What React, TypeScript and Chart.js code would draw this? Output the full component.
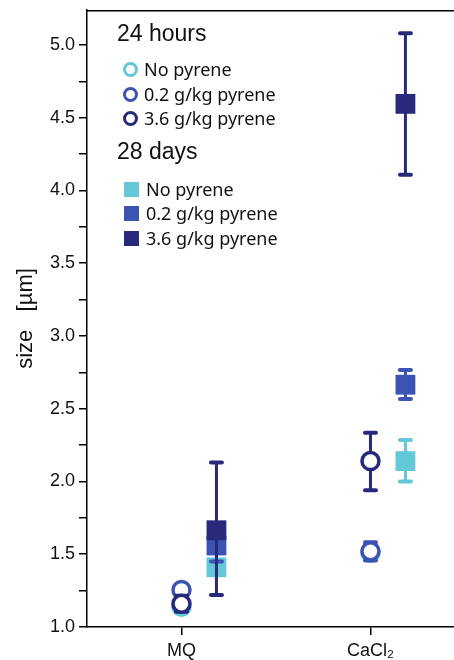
import React, { useEffect, useRef } from "react";
import { Chart, registerables } from "chart.js";

Chart.register(...registerables);

// ---------- data ----------
const categories = ["MQ", "CaCl\u2082"];
const categoryX = [1, 2];
const squareOffset = 0.185;
const yTickValues = [1, 1.25, 1.5, 1.75, 2, 2.25, 2.5, 2.75, 3, 3.25, 3.5, 3.75, 4, 4.25, 4.5, 4.75, 5];

// 24 hours (open circles)
const h24None = [1.14, 1.51];
const h24NoneLow = [1.115, 1.48];
const h24NoneHigh = [1.165, 1.54];
const h24Low02 = [1.255, 1.52];
const h24Low02Low = [1.23, 1.457];
const h24Low02High = [1.28, 1.583];
const h24High36 = [1.16, 2.14];
const h24High36Low = [1.105, 1.94];
const h24High36High = [1.215, 2.335];

// 28 days (filled squares)
const d28None = [1.41, 2.14];
const d28NoneLow = [1.38, 2.0];
const d28NoneHigh = [1.44, 2.285];
const d28Low02 = [1.56, 2.665];
const d28Low02Low = [1.45, 2.567];
const d28Low02High = [1.67, 2.766];
const d28High36 = [1.665, 4.595];
const d28High36Low = [1.22, 4.107];
const d28High36High = [2.13, 5.08];

const CYAN = "#63c8d8";
const MID = "#3b53b3";
const DARK = "#272a7b";

type Series = {
  label: string;
  group: string;
  values: number[];
  low: number[];
  high: number[];
  color: string;
  shape: "circle" | "rect";
  order: number;
};

const series: Series[] = [
  { label: "No pyrene", group: "24 hours", values: h24None, low: h24NoneLow, high: h24NoneHigh, color: CYAN, shape: "circle", order: 5 },
  { label: "0.2 g/kg pyrene", group: "24 hours", values: h24Low02, low: h24Low02Low, high: h24Low02High, color: MID, shape: "circle", order: 4 },
  { label: "3.6 g/kg pyrene", group: "24 hours", values: h24High36, low: h24High36Low, high: h24High36High, color: DARK, shape: "circle", order: 3 },
  { label: "No pyrene", group: "28 days", values: d28None, low: d28NoneLow, high: d28NoneHigh, color: CYAN, shape: "rect", order: 2 },
  { label: "0.2 g/kg pyrene", group: "28 days", values: d28Low02, low: d28Low02Low, high: d28Low02High, color: MID, shape: "rect", order: 1 },
  { label: "3.6 g/kg pyrene", group: "28 days", values: d28High36, low: d28High36Low, high: d28High36High, color: DARK, shape: "rect", order: 0 },
];

const errorBarPlugin = {
  id: "errorBars",
  beforeDatasetDraw(chart: any, args: any) {
    const ds: any = chart.data.datasets[args.index];
    const meta = args.meta;
    const yScale = chart.scales.y;
    const ctx = chart.ctx;
    ctx.save();
    ctx.strokeStyle = ds.errColor;
    ctx.lineCap = "round";
    meta.data.forEach((pt: any, i: number) => {
      const raw = ds.data[i];
      const yl = yScale.getPixelForValue(raw.low);
      const yh = yScale.getPixelForValue(raw.high);
      const x = pt.x;
      ctx.lineWidth = 3;
      ctx.beginPath();
      ctx.moveTo(x, yl);
      ctx.lineTo(x, yh);
      ctx.stroke();
      ctx.lineWidth = 4;
      ctx.beginPath();
      ctx.moveTo(x - 5.5, yl);
      ctx.lineTo(x + 5.5, yl);
      ctx.moveTo(x - 5.5, yh);
      ctx.lineTo(x + 5.5, yh);
      ctx.stroke();
    });
    ctx.restore();
  },
};

const framePlugin = {
  id: "frameAndLegend",
  afterDraw(chart: any) {
    const ctx = chart.ctx;
    const a = chart.chartArea;
    ctx.save();
    ctx.strokeStyle = "#000";
    ctx.lineWidth = 1.5;
    ctx.beginPath();
    ctx.moveTo(a.left, a.top + 0.75);
    ctx.lineTo(a.right, a.top + 0.75);
    ctx.stroke();

    // legend
    const groups = ["24 hours", "28 days"];
    const headBase = [40.5, 159];
    const itemBase = [
      [76, 101, 125],
      [196, 220, 245],
    ];
    groups.forEach((g, gi) => {
      ctx.fillStyle = "#111";
      ctx.font = "23px 'Liberation Sans', Arial, sans-serif";
      ctx.textBaseline = "alphabetic";
      ctx.textAlign = "left";
      ctx.fillText(g, 117, headBase[gi]);
      const items = series.filter((s) => s.group === g);
      items.forEach((s, ii) => {
        const base = itemBase[gi][ii];
        const cy = base - 6.5;
        if (s.shape === "circle") {
          ctx.beginPath();
          ctx.arc(130.5, cy, 6, 0, Math.PI * 2);
          ctx.fillStyle = "#fff";
          ctx.fill();
          ctx.lineWidth = 3;
          ctx.strokeStyle = s.color;
          ctx.stroke();
        } else {
          ctx.fillStyle = s.color;
          ctx.fillRect(124, cy - 7.5, 15, 15);
        }
        ctx.fillStyle = "#111";
        ctx.font = "18px 'Noto Sans', sans-serif";
        ctx.fillText(s.label, s.shape === "circle" ? 144 : 146, base);
      });
    });
    ctx.restore();
  },
};

export default function App() {
  const canvasRef = useRef<HTMLCanvasElement | null>(null);

  useEffect(() => {
    const canvas = canvasRef.current;
    if (!canvas) return;
    const datasets = series.map((s) => ({
      label: s.group + " " + s.label,
      data: s.values.map((v, i) => ({
        x: categoryX[i] + (s.shape === "rect" ? squareOffset : 0),
        y: v,
        low: s.low[i],
        high: s.high[i],
      })),
      pointStyle: s.shape,
      pointRadius: s.shape === "circle" ? 8.5 : 14,
      pointHoverRadius: s.shape === "circle" ? 8.5 : 14,
      borderWidth: s.shape === "circle" ? 3.5 : 0,
      borderColor: s.color,
      backgroundColor: s.shape === "circle" ? "#ffffff" : s.color,
      errColor: s.color,
      order: s.order,
      showLine: false,
    }));

    const chart = new Chart(canvas, {
      type: "scatter",
      data: { datasets: datasets as any },
      options: {
        animation: false,
        responsive: false,
        events: [],
        layout: { autoPadding: false, padding: { top: 10, right: 0, bottom: 0, left: 0 } },
        plugins: { legend: { display: false }, tooltip: { enabled: false } },
        scales: {
          x: {
            type: "linear",
            min: 0.5,
            max: 2.442,
            afterFit: (scale: any) => {
              scale.height = 33;
              scale.paddingLeft = 0;
              scale.paddingRight = 0;
            },
            afterBuildTicks: (scale: any) => {
              scale.ticks = categoryX.map((v) => ({ value: v }));
            },
            ticks: {
              autoSkip: false,
              maxRotation: 0,
              padding: 5,
              color: "#111",
              font: { family: "'Liberation Sans', Arial, sans-serif", size: 18 },
              callback: (v: any) => {
                const idx = categoryX.indexOf(Number(v));
                return idx >= 0 ? categories[idx] : "";
              },
            },
            grid: { drawOnChartArea: false, drawTicks: true, tickLength: 8, color: "#000", lineWidth: 1.5 },
            border: { display: true, color: "#000", width: 1.5 },
          },
          y: {
            type: "linear",
            min: 1.0,
            max: 5.24,
            afterFit: (scale: any) => {
              scale.width = 87;
              scale.paddingTop = 0;
              scale.paddingBottom = 0;
            },
            afterBuildTicks: (scale: any) => {
              scale.ticks = yTickValues.map((v) => ({ value: v }));
            },
            ticks: {
              autoSkip: false,
              padding: 4,
              color: "#111",
              font: { family: "'Liberation Sans', Arial, sans-serif", size: 18 },
              callback: (v: any) => {
                const n = Number(v);
                return Math.abs(n * 2 - Math.round(n * 2)) < 1e-6 ? n.toFixed(1) : "";
              },
            },
            grid: { drawOnChartArea: false, drawTicks: true, tickLength: 8, color: "#000", lineWidth: 1.5 },
            border: { display: true, color: "#000", width: 1.5 },
            title: {
              display: true,
              text: "size   [\u00b5m]",
              color: "#111",
              font: { family: "'Liberation Sans', Arial, sans-serif", size: 22 },
              padding: { top: 13, bottom: 0 },
            },
          },
        },
      },
      plugins: [errorBarPlugin, framePlugin],
    });
    return () => chart.destroy();
  }, []);

  return (
    <div style={{ position: "fixed", left: 0, top: 0, width: 454, height: 660, background: "#fff" }}>
      <canvas ref={canvasRef} width={454} height={660} style={{ width: 454, height: 660, display: "block" }} />
    </div>
  );
}
